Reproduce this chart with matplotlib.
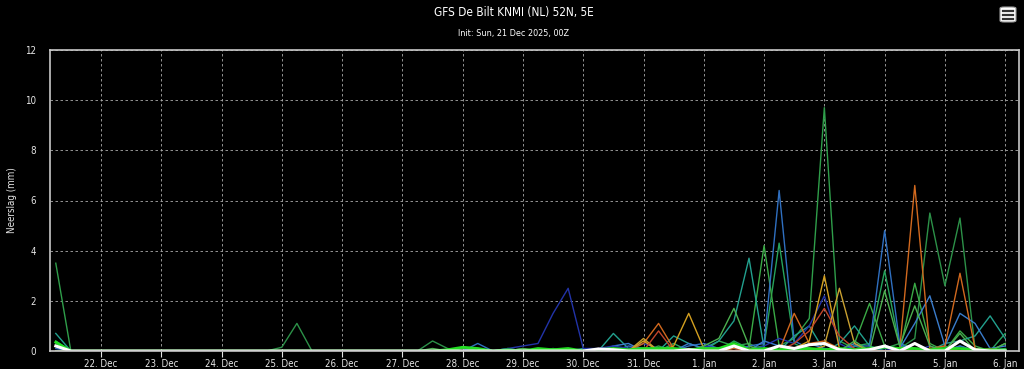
import matplotlib
matplotlib.use("Agg")
from matplotlib import pyplot as plt
from matplotlib.patches import FancyBboxPatch

# hours after init (21 Dec 2025 00Z), 6-hourly
hours = [6 * (k + 1) for k in range(64)]
tick_hours = [24, 48, 72, 96, 120, 144, 168, 192, 216, 240, 264, 288, 312, 336, 360, 384]
tick_labels = ['22. Dec', '23. Dec', '24. Dec', '25. Dec', '26. Dec', '27. Dec', '28. Dec',
               '29. Dec', '30. Dec', '31. Dec', '1. Jan', '2. Jan', '3. Jan', '4. Jan',
               '5. Jan', '6. Jan']

m1 = [3.5, 0, 0, 0, 0, 0, 0, 0, 0, 0, 0, 0, 0, 0, 0, 0,
      0, 0, 0, 0, 0, 0, 0, 0, 0, 0, 0, 0, 0, 0, 0, 0.1,
      0, 0.1, 0, 0, 0, 0.1, 0, 0, 0.2, 0, 0.1, 0, 0.4, 0.2, 0.3, 0,
      0.2, 0.5, 1.3, 9.7, 0.4, 0.1, 0, 0.1, 0.3, 0.1, 0, 0.2, 0, 0, 0.1, 0]
m2 = [0.3, 0, 0, 0, 0, 0, 0, 0, 0, 0, 0, 0, 0, 0, 0, 0.15,
      1.1, 0, 0, 0, 0, 0, 0, 0, 0, 0.4, 0.1, 0, 0, 0, 0, 0,
      0, 0, 0, 0, 0, 0, 0, 0, 0, 0, 0, 0, 0.1, 0, 0, 0.1,
      0, 0, 0.1, 0, 0, 0.2, 0, 0, 0.1, 0.5, 5.5, 2.6, 5.3, 0.1, 0, 0]
m3 = [0.4, 0, 0, 0, 0, 0, 0, 0, 0, 0, 0, 0, 0, 0, 0, 0,
      0, 0, 0, 0, 0, 0, 0, 0, 0, 0, 0, 0, 0.1, 0, 0, 0,
      0, 0, 0, 0, 0, 0.1, 0, 0, 0, 0.3, 0, 0, 0, 0.4, 0.1, 0.2,
      4.3, 0.3, 0, 0.1, 0, 0.2, 0.3, 3.2, 0.2, 0.1, 0, 0, 0.2, 0, 0, 0.7]
m4 = [0.2, 0, 0, 0, 0, 0, 0, 0, 0, 0, 0, 0, 0, 0, 0, 0,
      0, 0, 0, 0, 0, 0, 0, 0, 0, 0, 0, 0.1, 0, 0, 0, 0,
      0, 0, 0, 0, 0, 0, 0, 0, 0, 0, 0, 0.1, 0, 0.2, 0.1, 4.2,
      0.2, 0, 0.1, 0, 0, 0.3, 1.9, 0.2, 0, 2.7, 0.3, 0, 0.8, 0.2, 0, 0.3]
m5 = [0.7, 0, 0, 0, 0, 0, 0, 0, 0, 0, 0, 0, 0, 0, 0, 0,
      0, 0, 0, 0, 0, 0, 0, 0, 0, 0, 0, 0, 0, 0, 0, 0,
      0, 0, 0, 0.1, 0, 0.7, 0.1, 0.1, 0, 0.6, 0.3, 0.1, 0.4, 1.2, 3.7, 0.1,
      0, 0.6, 1.0, 0, 0.3, 1.0, 0.2, 0, 0, 0.1, 0, 0.3, 0.4, 0.6, 1.4, 0.5]
m6 = [0.1, 0, 0, 0, 0, 0, 0, 0, 0, 0, 0, 0, 0, 0, 0, 0,
      0, 0, 0, 0, 0, 0, 0, 0, 0, 0, 0, 0, 0.3, 0, 0, 0,
      0, 0, 0, 0, 0.1, 0, 0.2, 0.1, 0, 0, 0.2, 0.3, 0.1, 0, 0.2, 0.3,
      6.4, 0.4, 0.1, 0, 0, 0.2, 0.2, 4.8, 0.3, 0, 0.1, 0, 0.2, 0, 0, 0.1]
m7 = [0, 0, 0, 0, 0, 0, 0, 0, 0, 0, 0, 0, 0, 0, 0, 0,
      0, 0, 0, 0, 0, 0, 0, 0, 0, 0, 0, 0, 0, 0, 0.1, 0,
      0, 0, 0, 0, 0, 0.2, 0.3, 0, 0.1, 0, 0.3, 0.1, 0, 0.2, 0, 0.4,
      0.2, 0, 0.3, 0.1, 0, 0.3, 0, 0.2, 0.1, 1.1, 2.2, 0.2, 1.5, 1.1, 0.1, 0.2]
m8 = [0, 0, 0, 0, 0, 0, 0, 0, 0, 0, 0, 0, 0, 0, 0, 0,
      0, 0, 0, 0, 0, 0, 0, 0, 0, 0, 0, 0, 0, 0, 0.1, 0.2,
      0.3, 1.5, 2.5, 0.1, 0.1, 0.2, 0.1, 0.3, 0.1, 0, 0, 0.2, 0.1, 0.1, 0, 0.2,
      0.5, 0.3, 1.0, 2.2, 0.3, 0, 0.1, 0.1, 0, 0, 0.2, 0, 0, 0, 0.1, 0]
m9 = [0, 0, 0, 0, 0, 0, 0, 0, 0, 0, 0, 0, 0, 0, 0, 0,
      0, 0, 0, 0, 0, 0, 0, 0, 0, 0, 0, 0, 0, 0, 0, 0,
      0, 0, 0, 0, 0, 0, 0, 0.3, 1.1, 0.1, 0, 0, 0, 0.1, 0, 0,
      0, 1.5, 0.3, 0.4, 0.1, 0, 0, 0, 0.05, 6.6, 0.1, 0.2, 3.1, 0.1, 0, 0]
m10 = [0, 0, 0, 0, 0, 0, 0, 0, 0, 0, 0, 0, 0, 0, 0, 0,
       0, 0, 0, 0, 0, 0, 0, 0, 0, 0, 0, 0, 0, 0, 0, 0,
       0, 0, 0, 0, 0, 0, 0, 0.4, 0, 0.2, 1.5, 0.1, 0, 0, 0, 0,
       0, 0.1, 0.4, 3.0, 0.1, 0, 0, 0.2, 0, 0.3, 0, 0.1, 0, 0, 0, 0]
m11 = [0, 0, 0, 0, 0, 0, 0, 0, 0, 0, 0, 0, 0, 0, 0, 0,
       0, 0, 0, 0, 0, 0, 0, 0, 0, 0, 0, 0, 0, 0, 0, 0,
       0, 0, 0, 0, 0, 0, 0, 0.5, 0, 0, 0, 0, 0.1, 0, 0, 0,
       0, 0, 0, 0.2, 2.5, 0.3, 0, 0, 0, 0.1, 0, 0, 0, 0, 0, 0]
m12 = [0, 0, 0, 0, 0, 0, 0, 0, 0, 0, 0, 0, 0, 0, 0, 0,
       0, 0, 0, 0, 0, 0, 0, 0, 0, 0, 0, 0, 0, 0, 0, 0,
       0, 0, 0, 0, 0.1, 0, 0, 0, 0.8, 0, 0, 0, 0, 0, 0.1, 0,
       0, 0.3, 0.8, 1.7, 0.6, 0.1, 0, 0, 0, 0, 0.1, 0, 0, 0, 0.1, 0]
m13 = [0, 0, 0, 0, 0, 0, 0, 0, 0, 0, 0, 0, 0, 0, 0, 0,
       0, 0, 0, 0, 0, 0, 0, 0, 0, 0.1, 0, 0, 0, 0, 0, 0.1,
       0, 0, 0, 0, 0, 0, 0, 0, 0, 0, 0, 0.2, 0.5, 1.7, 0.2, 0,
       0, 0, 0.1, 0, 0, 0.4, 0, 2.4, 0.2, 1.8, 0.2, 0, 0.7, 0, 0, 0.3]
bright = [0.35, 0, 0, 0, 0, 0, 0, 0, 0, 0, 0, 0, 0, 0, 0, 0,
          0, 0, 0, 0, 0, 0, 0, 0, 0, 0, 0.05, 0.15, 0.1, 0, 0.05, 0,
          0.1, 0.05, 0.1, 0, 0.05, 0.1, 0.05, 0.1, 0.1, 0.1, 0.05, 0.1, 0.1, 0.3, 0.05, 0.1,
          0.05, 0.1, 0.1, 0.05, 0.1, 0.05, 0.1, 0.15, 0.1, 0.1, 0.05, 0.1, 0.1, 0.05, 0.05, 0.05]
mean = [0.2, 0, 0, 0, 0, 0, 0, 0, 0, 0, 0, 0, 0, 0, 0, 0,
        0, 0, 0, 0, 0, 0, 0, 0, 0, 0, 0, 0, 0, 0, 0, 0,
        0, 0, 0, 0, 0.08, 0.05, 0, 0, 0, 0, 0.05, 0, 0, 0.2, 0, 0,
        0.2, 0.1, 0.25, 0.3, 0.05, 0, 0.05, 0.2, 0, 0.3, 0, 0, 0.4, 0.05, 0, 0]

members = [m1, m2, m3, m4, m5, m6, m7, m8, m9, m10, m11, m12, m13]
colors = ['#2f9e4a', '#2c9148', '#26a35c', '#3aaa46', '#22a08e', '#2f6fc0', '#3a7ccc',
          '#2233a8', '#d2691e', '#d4a020', '#c9a030', '#c0452b', '#4cb050']

plt.rcParams['font.family'] = ['DejaVu Sans']
plt.rcParams['font.stretch'] = 'condensed'

fig = plt.figure(figsize=(10.24, 3.69), dpi=100, facecolor='black')
ax = fig.add_axes([50 / 1024, 18 / 369, 969 / 1024, 301 / 369], facecolor='black')

for vals, c in zip(members, colors):
    ax.plot(hours, vals, color=c, lw=1.0)
ax.plot(hours, bright, color='#22dd22', lw=2.0)
ax.plot(hours, mean, color='white', lw=2.2)

ax.set_xlim(3.7, 389.5)
ax.set_ylim(0, 12)
ax.set_xticks(tick_hours)
ax.set_xticklabels(tick_labels)
ax.set_yticks([0, 2, 4, 6, 8, 10, 12])
ax.grid(True, color='#aaaaaa', ls=(0, (3, 3)), lw=0.6)
for s in ax.spines.values():
    s.set_color('#c8c8c8')
    s.set_linewidth(1.2)
ax.tick_params(axis='x', colors='#e6e6e6', labelsize=7, length=4, direction='out', pad=2)
ax.tick_params(axis='y', colors='#e6e6e6', labelsize=7, length=0, pad=10)
ax.set_ylabel('Neerslag (mm)', color='#e6e6e6', fontsize=7)
ax.yaxis.set_label_coords(-0.034, 0.5)

fig.text(0.502, 0.965, 'GFS De Bilt KNMI (NL) 52N, 5E', color='white', fontsize=8.5,
         ha='center', va='center')
fig.text(0.502, 0.91, 'Init: Sun, 21 Dec 2025, 00Z', color='white', fontsize=6.5,
         ha='center', va='center')

# menu button
fig.patches.append(FancyBboxPatch((1000 / 1024, 347 / 369), 16 / 1024, 15 / 369,
                                  boxstyle='round,pad=0,rounding_size=0.004',
                                  transform=fig.transFigure, facecolor='white',
                                  edgecolor='#999999', lw=0.8))
for yy in [350.5, 354.5, 358.5]:
    fig.add_artist(plt.Line2D([1003 / 1024, 1013 / 1024], [yy / 369, yy / 369],
                              transform=fig.transFigure, color='#333333', lw=1.6))

fig.savefig('out.png', dpi=100, facecolor='black')
